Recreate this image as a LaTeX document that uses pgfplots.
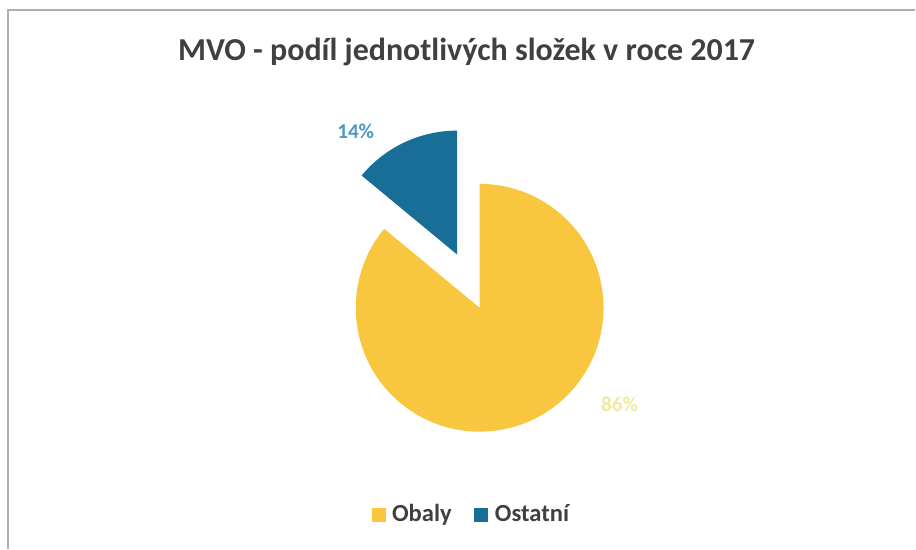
\documentclass[border=0pt]{standalone}
\usepackage{fontspec}
\setmainfont{Carlito}
\usepackage{pgfplots}
\usepackage{pgfplotstable}
\pgfplotsset{compat=1.18}
\usetikzlibrary{calc}
\definecolor{obaly}{RGB}{249,199,63}
\definecolor{ostatni}{RGB}{24,110,150}
\definecolor{titlegray}{RGB}{64,64,64}
\definecolor{lblblue}{RGB}{78,152,198}
\definecolor{lblyellow}{RGB}{240,234,160}
\definecolor{framegray}{RGB}{175,175,175}

% shares in percent
\pgfplotstableread{
share name
86 Obaly
14 Ostatni
}\pietable
\pgfplotstablegetelem{0}{share}\of\pietable \let\shareA\pgfplotsretval
\pgfplotstablegetelem{1}{share}\of\pietable \let\shareB\pgfplotsretval
\pgfmathsetmacro\angB{90+3.6*\shareB}
\pgfmathsetmacro\midB{90+1.8*\shareB}

\begin{document}
\begin{tikzpicture}
\begin{axis}[
  width=18.32cm, height=10.98cm, scale only axis,
  xmin=0, xmax=916, ymin=0, ymax=549,
  hide axis, clip=false,
]
\path (rel axis cs:0,0) rectangle (rel axis cs:1,1);
% frame
\draw[framegray, line width=0.8pt] (axis cs:8,0) -- (axis cs:8,539) -- (axis cs:916,539);
% title
\node[text=titlegray, font=\fontsize{18.2}{20}\selectfont\bfseries] at (axis cs:467,497)
  {MVO - podíl jednotlivých složek v roce 2017};
% pie: Obaly
\fill[obaly] (axis cs:480,241) -- ++(\angB:2.48cm)
  arc[start angle=\angB, end angle=450, radius=2.48cm] -- cycle;
% pie: Ostatní (exploded)
\fill[ostatni] ($(axis cs:483,240)+(\midB:1.2cm)$) -- ++(90:2.48cm)
  arc[start angle=90, end angle=\angB, radius=2.48cm] -- cycle;
% labels
\node[text=lblblue, font=\fontsize{12}{14}\selectfont\bfseries] at (axis cs:356,418) {\shareB\%};
\node[text=lblyellow, font=\fontsize{12}{14}\selectfont\bfseries] at (axis cs:620,144) {\shareA\%};
% legend
\fill[obaly] (axis cs:372,27) rectangle (axis cs:386,41);
\node[anchor=base west, text=titlegray, font=\fontsize{14}{16}\selectfont\bfseries, inner sep=0pt] at (axis cs:392,27) {Obaly};
\fill[ostatni] (axis cs:474,27) rectangle (axis cs:488,41);
\node[anchor=base west, text=titlegray, font=\fontsize{14}{16}\selectfont\bfseries, inner sep=0pt] at (axis cs:495,27) {Ostatní};
\end{axis}
\end{tikzpicture}
\end{document}
